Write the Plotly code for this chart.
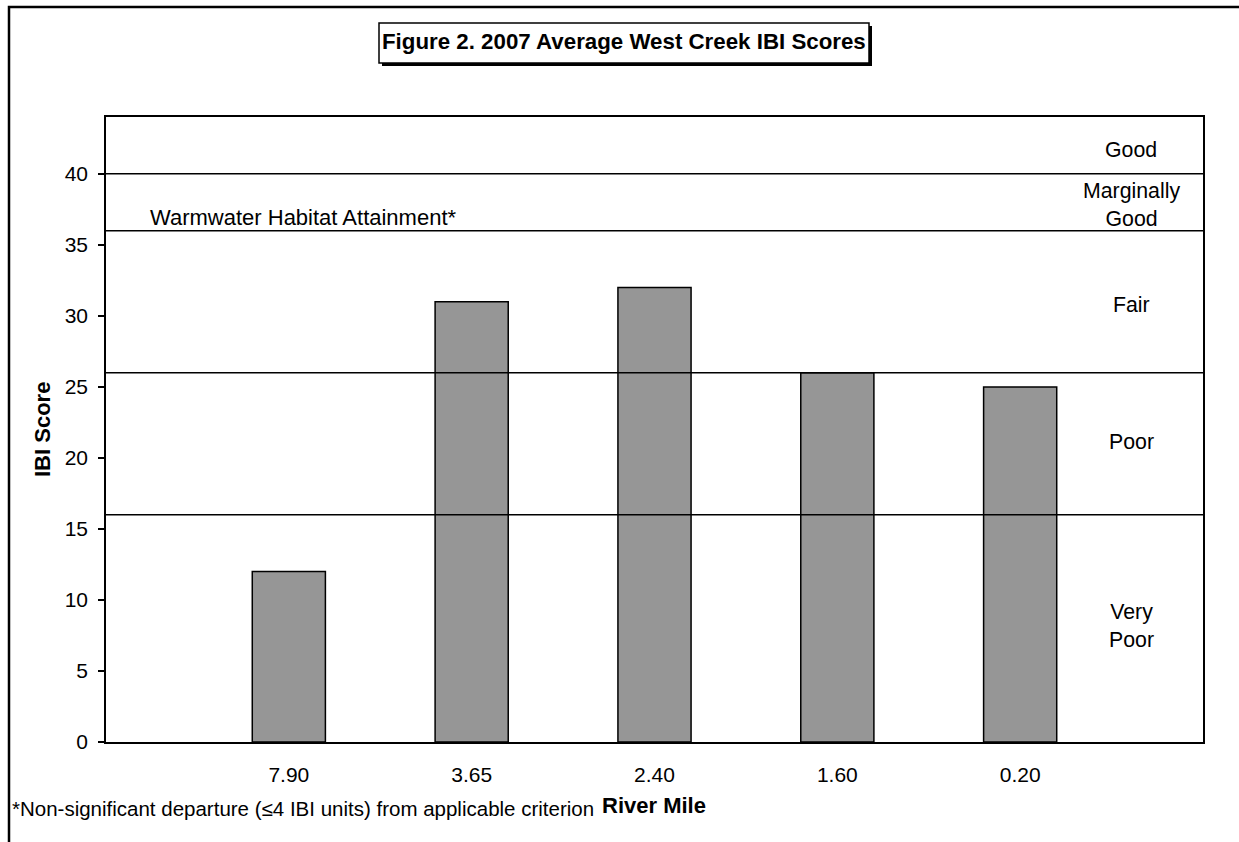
import plotly.graph_objects as go

# River mile stations and average IBI scores
river_miles = ["7.90", "3.65", "2.40", "1.60", "0.20"]
ibi_scores = [12, 31, 32, 26, 25]

# Narrative-rating thresholds and band labels
thresholds = [16, 26, 36, 40]
band_labels = ["Good", "Marginally<br>Good", "Fair", "Poor", "Very<br>Poor"]
band_label_y = [41.7, 37.8, 30.8, 21.1, 8.2]

W, H = 1239, 842
L, R, T, B = 106, 1203, 117, 742
FONT = "Liberation Sans, Arial, sans-serif"


def px(x):
    return (x - L) / (R - L)


def py(y):
    return (B - y) / (B - T)


fig = go.Figure()
fig.add_trace(go.Bar(
    x=river_miles, y=ibi_scores, width=0.4,
    marker=dict(color="#969696", line=dict(color="black", width=1.5)),
    showlegend=False, hoverinfo="x+y",
))

shapes = []
for t in thresholds:
    shapes.append(dict(type="line", xref="x domain", yref="y", x0=0, x1=1, y0=t, y1=t,
                       line=dict(color="black", width=1.5), layer="above"))

# outer chart frame (left and top edges; the rest runs off the page)
shapes.append(dict(type="path", xref="paper", yref="paper",
                   path=f"M {px(9)},{py(860)} L {px(9)},{py(7)} L {px(1260)},{py(7)}",
                   line=dict(color="black", width=2.5), layer="above"))
# title box with drop shadow
shapes.append(dict(type="rect", xref="paper", yref="paper",
                   x0=px(382), x1=px(872), y0=py(66), y1=py(26),
                   fillcolor="black", line=dict(width=0), layer="above"))
shapes.append(dict(type="rect", xref="paper", yref="paper",
                   x0=px(379), x1=px(869), y0=py(63), y1=py(23),
                   fillcolor="white", line=dict(color="black", width=1.5), layer="above"))

annotations = [
    dict(text="<b>Figure 2. 2007 Average West Creek IBI Scores</b>", xref="paper", yref="paper",
         x=px(624), y=py(41), xanchor="center", yanchor="middle", showarrow=False,
         font=dict(family=FONT, size=22.3, color="black")),
    dict(text="Warmwater Habitat Attainment*", xref="paper", yref="y",
         x=px(148), y=36.9, xanchor="left", yanchor="middle", showarrow=False,
         font=dict(family=FONT, size=22, color="black")),
    dict(text="<b>IBI Score</b>", xref="paper", yref="paper", textangle=-90,
         x=px(42), y=py(430), xanchor="center", yanchor="middle", showarrow=False,
         font=dict(family=FONT, size=22, color="black")),
    dict(text="<b>River Mile</b>", xref="paper", yref="paper",
         x=px(654), y=py(805), xanchor="center", yanchor="middle", showarrow=False,
         font=dict(family=FONT, size=22, color="black")),
    dict(text="*Non-significant departure (≤4 IBI units) from applicable criterion",
         xref="paper", yref="paper", x=px(10), y=py(808), xanchor="left", yanchor="middle",
         showarrow=False, font=dict(family=FONT, size=20.5, color="black")),
]
for lbl, yv in zip(band_labels, band_label_y):
    annotations.append(dict(text=lbl, xref="paper", yref="y", x=px(1131), y=yv,
                            xanchor="center", yanchor="middle", showarrow=False,
                            font=dict(family=FONT, size=21.3, color="black")))

fig.update_layout(
    width=W, height=H,
    margin=dict(l=L, r=W - R, t=T, b=H - B),
    paper_bgcolor="white", plot_bgcolor="white",
    font=dict(family=FONT, size=21, color="black"),
    bargap=0.6,
    shapes=shapes,
    annotations=annotations,
    xaxis=dict(type="category", range=[-1, 5], showgrid=False, ticks="",
               showline=True, linecolor="black", linewidth=1.5, mirror=True,
               tickfont=dict(size=21), zeroline=False, ticklabelstandoff=13),
    yaxis=dict(range=[0, 44], dtick=5, tick0=0, showgrid=False, zeroline=False,
               ticks="outside", ticklen=6, tickwidth=1.5, tickcolor="black",
               showline=True, linecolor="black", linewidth=1.5, mirror=True,
               tickfont=dict(size=21), ticklabelstandoff=6),
)

fig.write_html("out.html")
